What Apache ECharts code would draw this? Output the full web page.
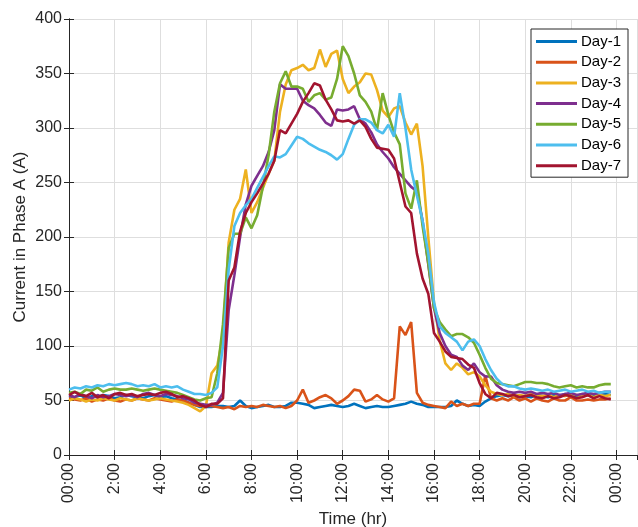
<!DOCTYPE html>
<html>
<head>
<meta charset="utf-8">
<script src="https://cdn.jsdelivr.net/npm/echarts@6/dist/echarts.min.js"></script>
<style>
  html, body { margin: 0; padding: 0; background: #fff; }
  #chart { width: 638px; height: 527px; }
</style>
</head>
<body>
<div id="chart"></div>
<script>
// samples every 15 min, 00:00 .. 23:45
const STEP_HR = 0.25
const N_SAMPLES = 96

const dayNames = ['Day-1', 'Day-2', 'Day-3', 'Day-4', 'Day-5', 'Day-6', 'Day-7']

const day1 = [
  54, 53, 55, 52, 54, 53, 55, 54, 52, 53, 55, 54, 53, 52, 54, 55, 53, 54, 52, 51, 50, 48, 46, 44,
  44, 44, 45, 45, 44, 45, 50, 45, 43, 44, 45, 46, 44, 44, 45, 48, 48, 47, 46, 43, 44, 45, 46, 45,
  44, 45, 47, 45, 43, 44, 45, 44, 44, 45, 46, 47, 49, 47, 46, 44, 44, 44, 44, 45, 50, 47, 45, 46,
  45, 49, 52, 54, 55, 54, 55, 53, 54, 53, 55, 54, 53, 55, 54, 56, 55, 54, 56, 55, 54, 55, 56, 55
]
const day2 = [
  52, 51, 50, 52, 49, 51, 50, 52, 50, 49, 51, 50, 52, 51, 50, 52, 51, 50, 49, 51, 50, 48, 46, 45,
  45, 45, 44, 43, 44, 42, 45, 44, 45, 44, 46, 45, 44, 45, 43, 45, 50, 60, 48, 50, 53, 55, 52, 47,
  50, 54, 60, 59, 49, 51, 55, 51, 49, 52, 118, 110, 122, 57, 48, 46, 45, 44, 43, 49, 45, 47, 45, 47,
  47, 73, 52, 50, 52, 50, 53, 50, 52, 49, 52, 50, 49, 52, 50, 50, 53, 50, 50, 51, 50, 51, 51, 52
]
const day3 = [
  50, 52, 51, 49, 51, 50, 52, 51, 50, 52, 51, 50, 52, 51, 50, 51, 52, 51, 50, 49, 48, 46, 43, 40,
  45, 75, 82, 110, 195, 225, 235, 262, 222, 232, 245, 258, 270, 315, 340, 353, 355, 358, 353, 355, 372, 356, 368, 371,
  345, 332, 338, 342, 350, 349, 335, 316, 310, 318, 320, 305, 294, 304, 265, 200, 140, 105, 84, 78, 84, 80, 74, 76,
  72, 64, 58, 56, 55, 56, 54, 55, 54, 56, 55, 54, 55, 53, 55, 54, 56, 55, 54, 55, 53, 55, 54, 55
]
const day4 = [
  55, 53, 56, 54, 52, 55, 53, 54, 56, 55, 54, 55, 53, 56, 57, 55, 54, 56, 55, 54, 52, 51, 48, 47,
  46, 46, 48, 57, 133, 165, 200, 230, 247, 256, 265, 278, 298, 340, 336, 336, 336, 325, 321, 318, 312, 305, 302, 317,
  316, 317, 320, 308, 304, 296, 285, 278, 272, 264, 258, 252, 246, 242, 215, 175, 135, 112, 100, 92, 90, 82, 78, 84,
  76, 72, 72, 64, 60, 58, 57, 58, 57, 58, 56, 57, 56, 57, 55, 56, 57, 55, 56, 57, 56, 57, 58, 58
]
const day5 = [
  57, 58, 56, 60, 59, 62, 58, 60, 61, 60, 60, 61, 60, 59, 60, 61, 60, 59, 58, 57, 55, 53, 51, 50,
  52, 53, 75, 120, 190, 203, 203, 218, 208, 220, 246, 275, 315, 341, 352, 338, 338, 336, 324, 330, 332, 326, 328, 345,
  375, 366, 350, 330, 324, 315, 298, 332, 312, 296, 285, 240, 226, 252, 210, 176, 135, 122, 115, 109, 111, 111, 108, 103,
  92, 80, 70, 66, 65, 64, 63, 65, 67, 67, 66, 66, 65, 63, 62, 63, 64, 62, 63, 62, 62, 64, 65, 65
]
const day6 = [
  60, 62, 61, 63, 62, 64, 63, 65, 64, 65, 66, 65, 63, 64, 63, 65, 62, 63, 62, 63, 60, 58, 56, 56,
  55, 57, 62, 100, 170, 210, 222, 229, 235, 245, 255, 265, 274, 273, 276, 284, 292, 290, 286, 283, 280, 278, 275, 271,
  276, 290, 303, 308, 308, 305, 298, 295, 303, 292, 332, 300, 262, 238, 215, 185, 140, 118, 112, 108, 104, 96, 104, 106,
  100, 88, 78, 70, 65, 63, 63, 61, 60, 61, 60, 59, 60, 58, 59, 60, 58, 59, 60, 58, 59, 57, 58, 58
]
const day7 = [
  55, 58, 55, 54, 57, 53, 55, 52, 56, 57, 55, 56, 54, 55, 56, 55, 57, 58, 56, 53, 54, 52, 50, 46,
  44, 47, 47, 52, 160, 172, 205, 222, 232, 240, 249, 258, 270, 298, 295, 304, 313, 324, 332, 341, 339, 326, 317, 307,
  306, 307, 304, 307, 301, 290, 282, 281, 280, 272, 250, 228, 222, 185, 162, 148, 112, 104, 95, 90, 89, 88, 83, 80,
  66, 56, 52, 57, 56, 54, 55, 53, 54, 55, 53, 52, 54, 52, 53, 55, 54, 52, 53, 55, 52, 54, 52, 51
]

const dayValues = [day1, day2, day3, day4, day5, day6, day7]
const dayColors = ['#0072BD', '#D95319', '#EDB120', '#7E2F8E', '#77AC30', '#4DBEEE', '#A2142F']

const times = []
for (let i = 0; i < N_SAMPLES; i++) times.push(i * STEP_HR)

const axisColor = '#262626'
const gridColor = '#dedede'
const font = 'Liberation Sans, Arial, sans-serif'

function hourLabel(v) {
  if (v % 2 !== 0) return ''
  if (v % 24 === 0) return '00:00'
  return v + ':00'
}

const chart = echarts.init(document.getElementById('chart'), null, { renderer: 'canvas' })

const option = {
  animation: false,
  backgroundColor: '#fff',
  textStyle: { fontFamily: font },
  grid: { left: 69, right: 1, top: 19, bottom: 72, containLabel: false, outerBoundsMode: 'none' },
  legend: {
    data: dayNames,
    orient: 'vertical',
    left: 531,
    top: 29,
    padding: [5, 7, 4, 5],
    itemGap: 5.7,
    itemWidth: 41,
    itemHeight: 3,
    icon: 'rect',
    borderColor: axisColor,
    borderWidth: 1,
    backgroundColor: '#fff',
    textStyle: { fontSize: 15, color: '#000', fontFamily: font, lineHeight: 15, padding: [0, 0, 0, -1] }
  },
  xAxis: [
    {
      type: 'value',
      min: 0,
      max: 24.9,
      interval: 2,
      name: 'Time (hr)',
      nameLocation: 'middle',
      nameGap: 56,
      nameMoveOverlap: false,
      nameTextStyle: { fontSize: 17, color: axisColor, fontFamily: font },
      axisLine: { lineStyle: { color: axisColor, width: 1 } },
      axisTick: { inside: true, length: 5, lineStyle: { color: axisColor } },
      axisLabel: {
        rotate: 90,
        margin: 8,
        fontSize: 16,
        color: axisColor,
        fontFamily: font,
        showMaxLabel: false,
        formatter: hourLabel
      },
      splitLine: { show: true, lineStyle: { color: gridColor, width: 1 } }
    },
    {
      type: 'value',
      position: 'top',
      min: 0,
      max: 24.9,
      interval: 2,
      axisLine: { lineStyle: { color: axisColor, width: 1 } },
      axisTick: { inside: true, length: 5, lineStyle: { color: axisColor } },
      axisLabel: { show: false },
      splitLine: { show: false }
    }
  ],
  yAxis: [
    {
      type: 'value',
      min: 0,
      max: 400,
      interval: 50,
      name: 'Current in Phase A (A)',
      nameLocation: 'middle',
      nameGap: 40,
      nameMoveOverlap: false,
      nameTextStyle: { fontSize: 17, color: axisColor, fontFamily: font },
      axisLine: { show: true, lineStyle: { color: axisColor, width: 1 } },
      axisTick: { show: true, inside: true, length: 5, lineStyle: { color: axisColor } },
      axisLabel: { fontSize: 16, color: axisColor, fontFamily: font, margin: 7 },
      splitLine: { show: true, lineStyle: { color: gridColor, width: 1 } }
    },
    {
      type: 'value',
      position: 'right',
      min: 0,
      max: 400,
      interval: 50,
      axisLine: { show: true, lineStyle: { color: axisColor, width: 1 } },
      axisTick: { show: true, inside: true, length: 5, lineStyle: { color: axisColor } },
      axisLabel: { show: false },
      splitLine: { show: false }
    }
  ],
  series: dayNames.map((name, k) => ({
    name: name,
    type: 'line',
    xAxisIndex: 0,
    yAxisIndex: 0,
    showSymbol: false,
    symbol: 'none',
    smooth: false,
    color: dayColors[k],
    lineStyle: { width: 2.6, color: dayColors[k] },
    data: times.map((t, i) => [t, dayValues[k][i]])
  }))
}

chart.setOption(option)
</script>
</body>
</html>
